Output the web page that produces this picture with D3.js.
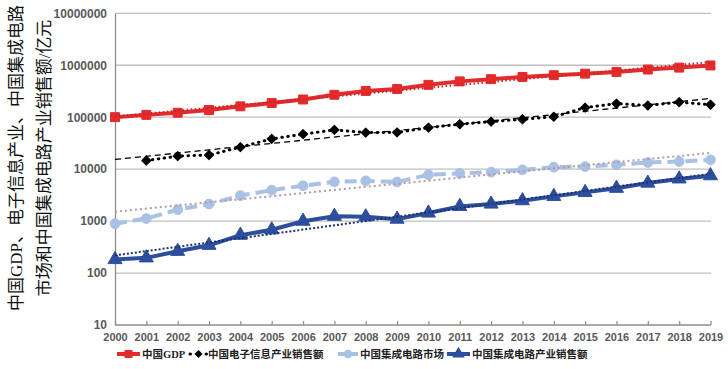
<!DOCTYPE html>
<html><head><meta charset="utf-8">
<script src="https://cdn.jsdelivr.net/npm/d3@7"></script>
<style>body{margin:0;background:#fff}svg{display:block}</style>
</head><body><svg id="c" width="728" height="369"></svg>
<script>
const years = ["2000","2001","2002","2003","2004","2005","2006","2007","2008","2009","2010","2011","2012","2013","2014","2015","2016","2017","2018","2019"];
const gdp = [100280,110863,121717,137422,161840,187319,219439,270232,319516,349081,420000,489301,540367,595244,643974,689052,743586,827122,900309,990865];
const eInfo = [null,14650,17800,18700,26500,38300,47100,57000,50600,51000,63000,73300,82200,91200,102000,153000,183000,168000,195000,174000];
const icMarket = [890,1120,1660,2130,3100,3950,4800,5700,5950,5660,7800,8300,8770,9700,10900,11200,12100,13400,14000,15100];
const icSales = [182,196,262,342,535,680,995,1240,1210,1090,1430,1915,2130,2470,2990,3570,4280,5390,6490,7480];
const yTicks = [10,100,1000,10000,100000,1000000,10000000];
const legendNames = ["中国GDP","中国电子信息产业销售额","中国集成电路市场","中国集成电路产业销售额"];
const titleLines = ["中国GDP、电子信息产业、中国集成电路","市场和中国集成电路产业销售额/亿元"];

const svg = d3.select("#c");
const x = d3.scalePoint().domain(years).range([115, 710.5]);
const y = d3.scaleLog().domain([10, 1e7]).range([325, 13.3]);

// gridlines
svg.append("g").selectAll("line").data(yTicks.slice(1)).join("line")
  .attr("x1", 115).attr("x2", 711).attr("y1", d => y(d)).attr("y2", d => y(d))
  .attr("stroke", "#bfbfbf").attr("stroke-width", 1.3);

// y axis
const ya = svg.append("g").attr("transform", "translate(115,0)")
  .call(d3.axisLeft(y).tickValues(yTicks).tickFormat(d3.format("d")).tickSize(0).tickPadding(8));
ya.select(".domain").attr("stroke", "#8c8c8c").attr("stroke-width", 1.3);
ya.selectAll("text").attr("font-family", "Liberation Sans, Arial, sans-serif").attr("font-size", 12)
  .attr("font-weight", "bold").attr("fill", "#595959");

// x axis
const xa = svg.append("g").attr("transform", "translate(0,325)")
  .call(d3.axisBottom(x).tickSizeInner(-4).tickSizeOuter(0).tickPadding(8));
xa.select(".domain").attr("stroke", "#8c8c8c").attr("stroke-width", 1.3).attr("d", "M115,0H711");
xa.selectAll(".tick line").attr("stroke", "#8c8c8c").attr("stroke-width", 1.2);
xa.selectAll("text").attr("font-family", "Liberation Sans, Arial, sans-serif").attr("font-size", 11)
  .attr("font-weight", "bold").attr("fill", "#595959");

// series
const series = [
  {vals: gdp, color: "#e42b2c", w: 4, dash: null, cap: "butt", marker: "square",
   tcolor: "#c3262a", tw: 2, tdash: "1.5,2.5"},
  {vals: eInfo, color: "#000", w: 3, dash: "0.5,5.5", cap: "round", marker: "diamond",
   tcolor: "#000", tw: 1.3, tdash: "6,4"},
  {vals: icMarket, color: "#a9c2e4", w: 4, dash: "12,6", cap: "butt", marker: "circle",
   tcolor: "#b39aa6", tw: 2, tdash: "2,3"},
  {vals: icSales, color: "#2d4e9d", w: 4, dash: null, cap: "butt", marker: "triangle",
   tcolor: "#1c3170", tw: 2, tdash: "2,2"}
];
const symType = {square: d3.symbolSquare, diamond: d3.symbolSquare, circle: d3.symbolCircle, triangle: d3.symbolTriangle};
const symSize = {square: 80, diamond: 42, circle: 75, triangle: 85};
const symRot = {square: 0, diamond: 45, circle: 0, triangle: 0};

const line = d3.line().defined(d => d.v != null).x(d => x(d.yr)).y(d => y(d.v));

series.forEach(s => {
  const pts = years.map((yr, i) => ({yr, i, v: s.vals[i]}));
  s.pts = pts;
  const p = svg.append("path").datum(pts).attr("d", line).attr("fill", "none")
    .attr("stroke", s.color).attr("stroke-width", s.w).attr("stroke-linecap", s.cap).attr("stroke-linejoin", "round");
  if (s.dash) p.attr("stroke-dasharray", s.dash);
  svg.append("g").selectAll("path").data(pts.filter(d => d.v != null)).join("path")
    .attr("transform", d => `translate(${x(d.yr)},${y(d.v)}) rotate(${symRot[s.marker]})`)
    .attr("d", d3.symbol().type(symType[s.marker]).size(symSize[s.marker]))
    .attr("fill", s.color).attr("stroke", s.color).attr("stroke-width", 1).attr("stroke-linejoin", "round");
});

// exponential trendlines (least squares on log10 of values)
series.forEach(s => {
  const d = s.pts.filter(p => p.v != null);
  const mx = d3.mean(d, p => p.i), my = d3.mean(d, p => Math.log10(p.v));
  const slope = d3.sum(d, p => (p.i - mx) * (Math.log10(p.v) - my)) / d3.sum(d, p => (p.i - mx) ** 2);
  const b = my - slope * mx;
  const tp = [0, years.length - 1].map(i => ({yr: years[i], v: Math.pow(10, b + slope * i)}));
  svg.append("path").datum(tp).attr("d", line).attr("fill", "none")
    .attr("stroke", s.tcolor).attr("stroke-width", s.tw).attr("stroke-dasharray", s.tdash);
});

// legend
const lg = [
  {x1: 117, x2: 140, tx: 142},
  {x1: 190, x2: 207, tx: 208},
  {x1: 338, x2: 358, tx: 360},
  {x1: 447, x2: 470, tx: 472}
];
const ly = 354;
series.forEach((s, i) => {
  const L = lg[i];
  const p = svg.append("line").attr("x1", L.x1).attr("x2", L.x2).attr("y1", ly).attr("y2", ly)
    .attr("stroke", s.color).attr("stroke-width", s.w).attr("stroke-linecap", s.cap);
  if (s.dash) p.attr("stroke-dasharray", i === 1 ? "0.5,7.5" : "none");
  svg.append("path").attr("transform", `translate(${(L.x1 + L.x2) / 2},${ly}) rotate(${symRot[s.marker]})`)
    .attr("d", d3.symbol().type(symType[s.marker]).size(symSize[s.marker] * 0.8))
    .attr("fill", s.color);
  svg.append("text").attr("x", L.tx).attr("y", ly + 4).text(legendNames[i])
    .attr("font-family", "Liberation Serif, Noto Sans CJK SC, serif").attr("font-size", 10.5)
    .attr("font-weight", "bold").attr("fill", "#222");
});

// y axis title
const tt = svg.append("g").attr("font-family", "Liberation Serif, Noto Sans CJK SC, serif").attr("font-size", 17).attr("fill", "#111");
tt.append("text").attr("transform", "translate(22,158) rotate(-90)").attr("text-anchor", "middle").text(titleLines[0]);
tt.append("text").attr("transform", "translate(50,158) rotate(-90)").attr("text-anchor", "middle").text(titleLines[1]);
</script></body></html>
